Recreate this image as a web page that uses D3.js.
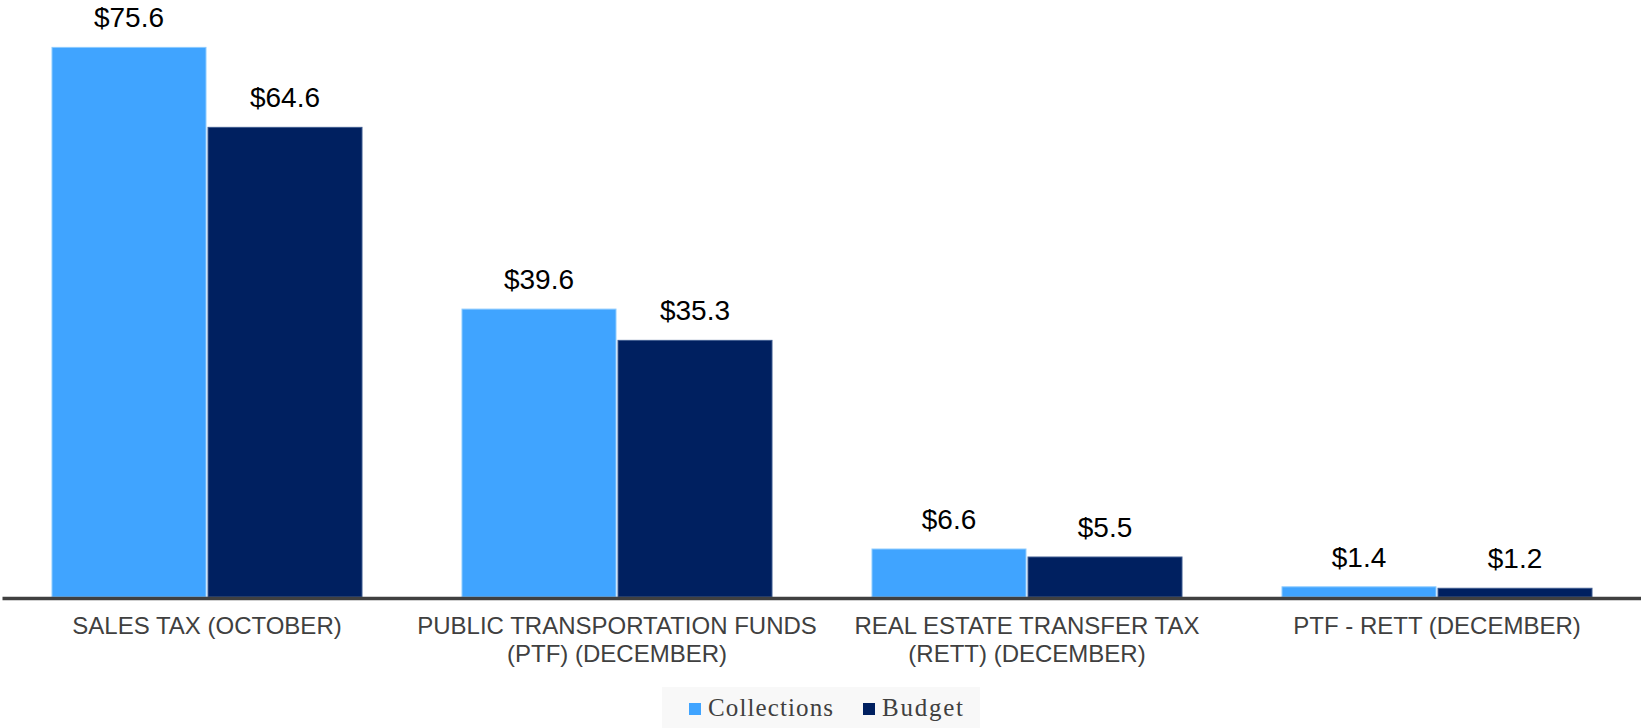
<!DOCTYPE html>
<html>
<head>
<meta charset="utf-8">
<script src="https://cdn.jsdelivr.net/npm/d3@7"></script>
<style>
  body { margin: 0; background: #fff; }
</style>
</head>
<body>
<div id="chart"></div>
<script>
const categories = [
    "SALES TAX (OCTOBER)",
    "PUBLIC TRANSPORTATION FUNDS\n(PTF) (DECEMBER)",
    "REAL ESTATE TRANSFER TAX\n(RETT) (DECEMBER)",
    "PTF - RETT (DECEMBER)"
];
const seriesNames = ["Collections", "Budget"];
const collections = [75.6, 39.6, 6.6, 1.4];
const budget = [64.6, 35.3, 5.5, 1.2];

const colors = { Collections: "#40a4ff", Budget: "#002060" };
const borders = { Collections: "#8ccbff", Budget: "#3d5a8f" };

const width = 1641, height = 728;
const baseY = 597;

const svg = d3.select("#chart")
    .append("svg")
    .attr("width", width)
    .attr("height", height);

const data = categories.map((c, i) => ({
    cat: c,
    values: [
        { key: "Collections", value: collections[i] },
        { key: "Budget", value: budget[i] }
    ]
}));

// Scales
const x0 = d3.scaleBand()
    .domain(categories)
    .range([2, 1642])
    .padding(0);

const x1 = d3.scaleBand()
    .domain(seriesNames)
    .range([50, 360])
    .paddingInner(0.013);

const y = d3.scaleLinear()
    .domain([0, 80])
    .range([baseY, baseY - 7.27 * 80]);

// Bars
const groups = svg.selectAll(".group")
    .data(data)
    .join("g")
    .attr("class", "group")
    .attr("transform", d => `translate(${x0(d.cat)},0)`);

groups.selectAll("rect")
    .data(d => d.values)
    .join("rect")
    .attr("x", d => x1(d.key))
    .attr("y", d => y(d.value))
    .attr("width", x1.bandwidth())
    .attr("height", d => y(0) - y(d.value))
    .attr("fill", d => colors[d.key])
    .attr("stroke", d => borders[d.key])
    .attr("stroke-width", 1);

// Value labels
groups.selectAll(".val")
    .data(d => d.values)
    .join("text")
    .attr("class", "val")
    .attr("x", d => x1(d.key) + x1.bandwidth() / 2)
    .attr("y", d => y(d.value) - 20)
    .attr("text-anchor", "middle")
    .style("font-family", "'Liberation Sans', Arial, sans-serif")
    .style("font-size", "28px")
    .style("fill", "#000")
    .text(d => "$" + d3.format(".1f")(d.value));

// X axis
const xAxis = svg.append("g")
    .attr("transform", `translate(0,${baseY + 1})`)
    .call(d3.axisBottom(x0).tickSize(0).tickSizeOuter(0));

xAxis.select(".domain")
    .attr("stroke", "#404040")
    .attr("stroke-width", 3.5);

xAxis.selectAll(".tick text").each(function(d) {
    const t = d3.select(this);
    t.text(null)
        .attr("y", 36)
        .attr("dy", null)
        .style("font-family", "'Liberation Sans', Arial, sans-serif")
        .style("font-size", "24px")
        .attr("fill", "#404040");
    d.split("\n").forEach((line, i) => {
        t.append("tspan")
            .attr("x", 0)
            .attr("y", 36 + i * 28)
            .text(line);
    });
});

// Legend
const legend = svg.append("g");
legend.append("rect")
    .attr("x", 662)
    .attr("y", 687)
    .attr("width", 318)
    .attr("height", 41)
    .attr("fill", "#f8f8f8");

const legendX = { Collections: 689, Budget: 863 };
const legendW = { Collections: 125, Budget: 81 };

const items = legend.selectAll(".item")
    .data(seriesNames)
    .join("g")
    .attr("class", "item");

items.append("rect")
    .attr("x", d => legendX[d])
    .attr("y", 703)
    .attr("width", 12)
    .attr("height", 12)
    .attr("fill", d => colors[d]);

items.append("text")
    .attr("x", d => legendX[d] + 19)
    .attr("y", 716)
    .attr("textLength", d => legendW[d])
    .attr("lengthAdjust", "spacing")
    .style("font-family", "'Liberation Serif', 'Times New Roman', serif")
    .style("font-size", "25px")
    .style("fill", "#404040")
    .text(d => d);
</script>
</body>
</html>
